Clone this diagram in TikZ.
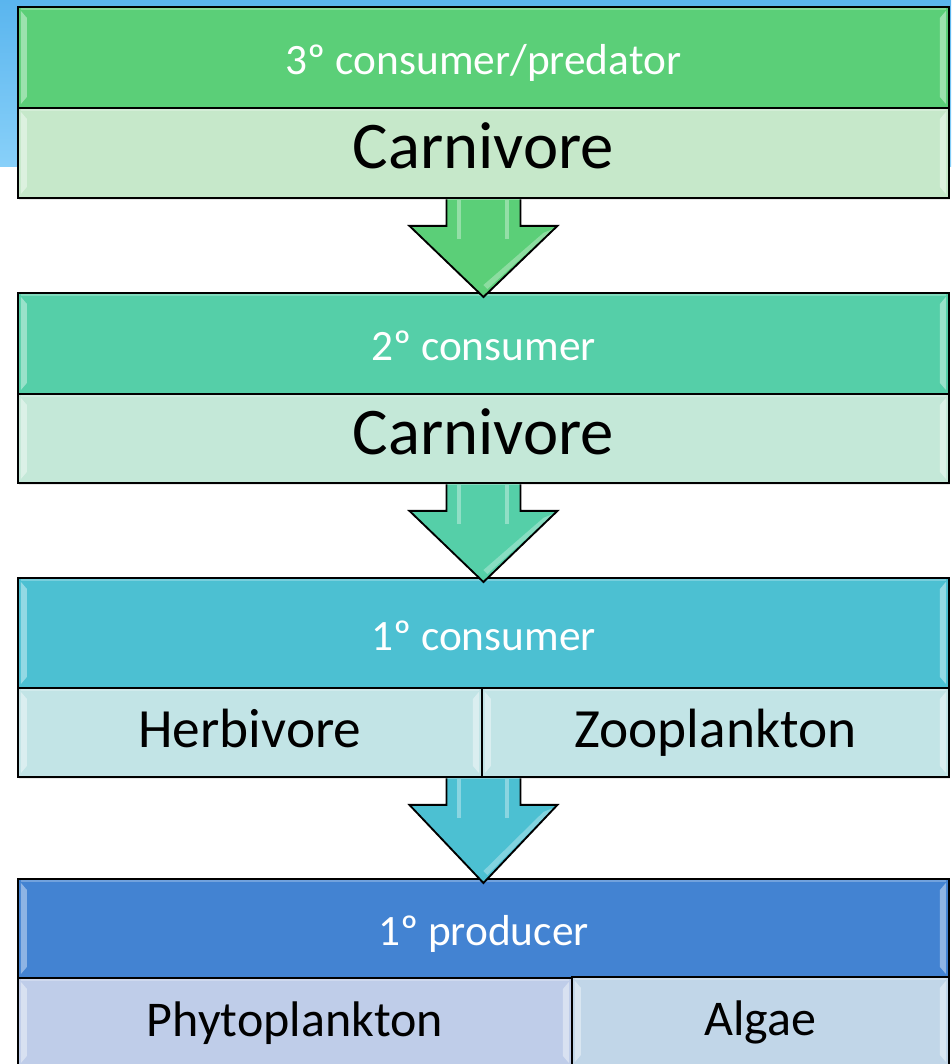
\documentclass[tikz,border=0pt]{standalone}
\usepackage{fontspec}
\setmainfont{Carlito}
\usetikzlibrary{calc,shadows}
\definecolor{bgTop}{HTML}{5AB5EE}
\definecolor{bgBot}{HTML}{88D0F9}
\definecolor{gA}{HTML}{5BCF78}
\definecolor{gAl}{HTML}{C6E8CA}
\definecolor{gB}{HTML}{55CFA8}
\definecolor{gBl}{HTML}{C4E8D8}
\definecolor{gC}{HTML}{4CC0D2}
\definecolor{gCl}{HTML}{C2E4E6}
\definecolor{gD}{HTML}{4383D2}
\definecolor{gDl}{HTML}{BFCDE9}
\definecolor{gDr}{HTML}{C1D6E8}
\tikzset{
  panel/.style={draw=black, line width=1.4pt, inner sep=0pt, anchor=north west, bevel},
  hdr/.style={panel, text=white, font=\fontsize{32.5}{36}\selectfont, text height=28pt, text depth=2pt},
  low/.style={panel, text=black, drop shadow={opacity=0.18, shadow xshift=0.8pt, shadow yshift=-1.8pt}},
  bigtext/.style={font=\fontsize{50}{54}\selectfont, text height=30pt, text depth=6pt},
  midtext/.style={font=\fontsize{41.5}{46}\selectfont, text height=29pt, text depth=5.8pt},
  smalltext/.style={font=\fontsize{37.5}{42}\selectfont, text height=26pt, text depth=4.2pt},
  bevel/.style={path picture={
    \fill[white,opacity=.4] ($(path picture bounding box.north west)+(3,4)$) -- ++(6,7) -- ($(path picture bounding box.south west)+(9,-11)$) -- ++(-6,7) -- cycle;
    \fill[white,opacity=.4] ($(path picture bounding box.north east)+(-3,4)$) -- ++(-6,7) -- ($(path picture bounding box.south east)+(-9,-11)$) -- ++(6,7) -- cycle;
    \fill[white,opacity=.25] ($(path picture bounding box.north west)+(3,1)$) rectangle ($(path picture bounding box.north east)+(-3,3)$);
  }},
  arr/.style={draw=black, line width=1.4pt, line join=miter},
}
\newcommand{\blockarrow}[3]{%
  \coordinate (s) at (#1.south -| #2.north);
  \coordinate (t) at ($(#2.north)+(0,5)$);
  \fill[#3] ($(s)+(-37,0.5)$) -- ($(s)+(-37,27)$) -- ($(s)+(-74,27)$) -- (t) -- ($(s)+(74,27)$) -- ($(s)+(37,27)$) -- ($(s)+(37,0.5)$) -- cycle;
  \fill[white,opacity=.35] ($(s)+(-26,1)$) rectangle ($(s)+(-22,40)$);
  \fill[white,opacity=.35] ($(s)+(22,1)$) rectangle ($(s)+(26,40)$);
  \fill[white,opacity=.3] ($(s)+(60,34)$) -- ($(s)+(70,30)$) -- ($(t)+(4,-8)$) -- ($(t)+(0,-12)$) -- cycle;
  \draw[arr] ($(s)+(-37,0.5)$) -- ($(s)+(-37,27)$) -- ($(s)+(-74,27)$) -- (t) -- ($(s)+(74,27)$) -- ($(s)+(37,27)$) -- ($(s)+(37,0.5)$);
}
\begin{document}
\begin{tikzpicture}[x=0.75pt,y=-0.75pt]
\useasboundingbox (0,0) rectangle (951,1064);
\clip (0,0) rectangle (951,1064);
\shade[top color=bgTop,bottom color=bgBot] (0,0) rectangle (951,166);

% level 1
\node[low, bigtext, fill=gAl, minimum width=698.25pt, minimum height=67.5pt] (l1) at (17,107) {Carnivore};
\node[hdr, fill=gA, minimum width=698.25pt, minimum height=75.75pt] (h1) at (17,6) {3º consumer/predator};

% level 2
\node[low, bigtext, fill=gBl, minimum width=698.25pt, minimum height=66.75pt] (l2) at (17,393) {Carnivore};
\node[hdr, fill=gB, minimum width=698.25pt, minimum height=75.75pt] (h2) at (17,292) {2º consumer};

% level 3
\node[low, midtext, fill=gCl, minimum width=348pt, minimum height=66.75pt] (l3a) at (17,687) {Herbivore};
\node[low, midtext, fill=gCl, minimum width=350.25pt, minimum height=66.75pt] (l3b) at (481,687) {Zooplankton};
\node[hdr, fill=gC, minimum width=698.25pt, minimum height=82.5pt] (h3) at (17,577) {1º consumer};

% level 4
\node[hdr, fill=gD, minimum width=698.25pt, minimum height=74.25pt] (h4) at (17,878) {1º producer};
\node[low, smalltext, fill=gDl, minimum width=415.5pt, minimum height=66.75pt] (l4a) at (17,977) {Phytoplankton};
\node[low, smalltext, fill=gDr, minimum width=282.75pt, minimum height=66.75pt] (l4b) at (571,976) {Algae};

% arrows
\blockarrow{l1}{h2}{gA}
\blockarrow{l2}{h3}{gB}
\blockarrow{l3a}{h4}{gC}
\end{tikzpicture}
\end{document}
